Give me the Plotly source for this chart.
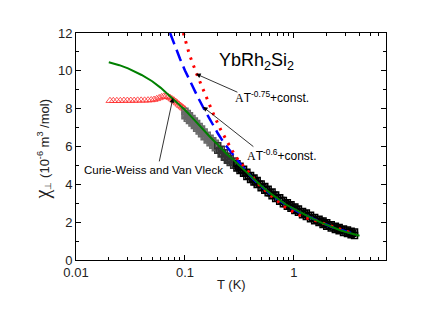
import math
import plotly.graph_objects as go

# ---------------- data ----------------
# Curie-Weiss and Van Vleck fit (green)
cw_T = [0.02, 0.025, 0.03, 0.035, 0.04, 0.05, 0.06, 0.07, 0.08, 0.09, 0.1, 0.12, 0.14, 0.17,
        0.2, 0.24, 0.28, 0.34, 0.4, 0.5, 0.6, 0.7, 0.85, 1.0, 1.2, 1.5, 1.8, 2.2, 2.7, 3.3, 4.0]
cw_chi = [10.45, 10.3, 10.13, 9.96, 9.78, 9.45, 9.1, 8.75, 8.45, 8.18, 7.93, 7.45, 7.02, 6.5,
          6.1, 5.62, 5.28, 4.82, 4.42, 3.92, 3.55, 3.25, 2.92, 2.7, 2.45, 2.17, 1.96, 1.75, 1.56, 1.41, 1.28]

# A T^-0.6 + const (blue dashed)
p06_T = [0.073, 0.08, 0.09, 0.1, 0.11, 0.12, 0.13, 0.146, 0.16, 0.18, 0.2, 0.23, 0.27, 0.3, 0.34,
         0.37, 0.42, 0.5, 0.6, 0.75, 0.9, 1.1, 1.4, 1.8, 2.3, 2.9, 3.5]
p06_chi = [12.0, 11.37, 10.64, 10.02, 9.5, 9.05, 8.66, 8.1, 7.68, 7.15, 6.7, 6.15, 5.62, 5.3, 4.92,
           4.67, 4.3, 3.9, 3.52, 3.12, 2.82, 2.55, 2.25, 1.97, 1.72, 1.52, 1.39]

# A T^-0.75 + const (red dotted)
p075_T = [0.0966, 0.11, 0.128, 0.15, 0.18, 0.21, 0.24, 0.27, 0.3, 0.35, 0.41, 0.48, 0.577, 0.69,
          0.82, 1.0, 1.2, 1.5, 1.9, 2.4, 3.0, 3.5]
p075_chi = [12.0, 10.85, 9.84, 8.85, 7.8, 6.95, 6.3, 5.8, 5.38, 4.9, 4.45, 3.98, 3.54, 3.17,
            2.82, 2.52, 2.28, 2.12, 1.92, 1.7, 1.5, 1.4]

# low-T data (red open triangles)
low_T = [0.0205, 0.022, 0.0237, 0.0255, 0.0275, 0.0296, 0.0318, 0.0342, 0.0368, 0.0396, 0.0426,
         0.0458, 0.049, 0.052, 0.055, 0.058, 0.061, 0.064, 0.067, 0.07, 0.073, 0.076, 0.079,
         0.082, 0.085, 0.088, 0.091, 0.094, 0.097, 0.1]
low_chi = [8.42, 8.42, 8.42, 8.42, 8.43, 8.43, 8.43, 8.43, 8.44, 8.44, 8.44, 8.45, 8.46, 8.48,
           8.52, 8.57, 8.62, 8.65, 8.66, 8.63, 8.58, 8.51, 8.45, 8.38, 8.3, 8.23, 8.16, 8.09, 8.03, 7.97]

# high-T data (black open squares): upper, middle and lower runs
hi_T = [0.1, 0.105, 0.11, 0.116, 0.122, 0.128, 0.135, 0.142, 0.15, 0.16, 0.17, 0.18, 0.19, 0.2,
        0.215, 0.23, 0.245, 0.26, 0.28, 0.3, 0.32, 0.345, 0.37, 0.4, 0.43, 0.46, 0.5, 0.54, 0.58,
        0.63, 0.68, 0.74, 0.8, 0.87, 0.94, 1.02, 1.1, 1.2, 1.3, 1.42, 1.55, 1.7, 1.85, 2.0, 2.2,
        2.4, 2.6, 2.85, 3.1, 3.35, 3.6]
hi_chi_up = [7.86, 7.74, 7.62, 7.48, 7.35, 7.21, 7.06, 6.92, 6.76, 6.59, 6.44, 6.3, 6.17, 6.04,
             5.85, 5.67, 5.49, 5.37, 5.23, 5.09, 4.95, 4.8, 4.64, 4.47, 4.33, 4.2, 4.02, 3.88,
             3.74, 3.59, 3.43, 3.29, 3.15, 3.02, 2.92, 2.8, 2.7, 2.57, 2.48, 2.36, 2.25, 2.16,
             2.06, 1.97, 1.87, 1.79, 1.72, 1.64, 1.58, 1.52, 1.48]
hi_chi_lo = [7.63, 7.5, 7.38, 7.24, 7.11, 6.97, 6.82, 6.68, 6.52, 6.35, 6.2, 6.06, 5.93, 5.8,
             5.61, 5.43, 5.27, 5.15, 5.01, 4.87, 4.73, 4.58, 4.42, 4.26, 4.12, 3.99, 3.82, 3.69,
             3.55, 3.4, 3.25, 3.11, 2.97, 2.84, 2.74, 2.62, 2.52, 2.39, 2.3, 2.18, 2.07, 1.98,
             1.88, 1.79, 1.69, 1.61, 1.54, 1.46, 1.4, 1.34, 1.3]
hi_T_mid = [0.102, 0.107, 0.113, 0.119, 0.125, 0.131, 0.138, 0.146, 0.155, 0.165, 0.175, 0.185,
            0.195, 0.207, 0.222, 0.237, 0.252, 0.27, 0.29, 0.31, 0.332, 0.357, 0.385, 0.415,
            0.445, 0.48, 0.52, 0.56, 0.605, 0.655, 0.71, 0.77, 0.835, 0.905, 0.98, 1.06, 1.15,
            1.25, 1.36, 1.48, 1.62, 1.77, 1.92, 2.1, 2.3, 2.5, 2.72, 2.97, 3.22, 3.47]
hi_chi_mid = [7.7, 7.57, 7.43, 7.29, 7.16, 7.03, 6.88, 6.72, 6.56, 6.39, 6.25, 6.11, 5.98, 5.83,
              5.64, 5.47, 5.32, 5.19, 5.05, 4.91, 4.77, 4.61, 4.45, 4.29, 4.15, 4.0, 3.85,
              3.72, 3.56, 3.42, 3.27, 3.14, 2.99, 2.89, 2.77, 2.67, 2.55, 2.45, 2.34, 2.23,
              2.13, 2.03, 1.94, 1.84, 1.75, 1.68, 1.6, 1.53, 1.47, 1.42]

x_tickvals = [0.01, 0.1, 1]
x_ticktext = ["0.01", "0.1", "1"]
x_minor = [0.02, 0.03, 0.04, 0.05, 0.06, 0.07, 0.08, 0.09,
           0.2, 0.3, 0.4, 0.5, 0.6, 0.7, 0.8, 0.9, 2, 3, 4, 5, 6, 7]
y_tickvals = [0, 2, 4, 6, 8, 10, 12]

FONT = "Liberation Sans, Arial, sans-serif"
SERIF = "Liberation Serif"


def band_colors(ts):
    # grey symbols at the low-temperature end of the band, black elsewhere
    return ["#6a6a6a" if t < 0.2 else ("#333333" if t < 0.3 else "#000000") for t in ts]


fig = go.Figure()

fig.add_trace(go.Scatter(x=low_T, y=low_chi, mode="markers",
                         marker=dict(symbol="triangle-up-open", size=7, color="#ff3030",
                                     line=dict(width=0.8, color="#ff3030")),
                         showlegend=False))
for xs, ys in ((hi_T, hi_chi_lo), (hi_T_mid, hi_chi_mid), (hi_T, hi_chi_up)):
    cols = band_colors(xs)
    fig.add_trace(go.Scatter(x=xs, y=ys, mode="markers",
                             marker=dict(symbol="square-open", size=6, color=cols,
                                         line=dict(width=1.5, color=cols)),
                             showlegend=False))
fig.add_trace(go.Scatter(x=p06_T, y=p06_chi, mode="lines",
                         line=dict(color="#0000ff", width=2.5, dash="12px,6px"),
                         showlegend=False))
fig.add_trace(go.Scatter(x=p075_T, y=p075_chi, mode="lines",
                         line=dict(color="#ff0000", width=3, dash="2.5px,6px"),
                         showlegend=False))
fig.add_trace(go.Scatter(x=cw_T, y=cw_chi, mode="lines",
                         line=dict(color="#008000", width=2),
                         showlegend=False))

L = math.log10
annotations = [
    dict(x=L(0.458), y=10.5, xref="x", yref="y", showarrow=False,
         text="YbRh<sub>2</sub>Si<sub>2</sub>", font=dict(size=18, family=FONT, color="#000")),
    dict(x=L(0.628), y=8.6, xref="x", yref="y", showarrow=False,
         text=f"<span style='font-family:{SERIF}'>A</span>T<sup>-0.75</sup>+const.",
         font=dict(size=12, family=FONT, color="#000")),
    dict(x=L(0.776), y=5.55, xref="x", yref="y", showarrow=False,
         text=f"<span style='font-family:{SERIF}'>A</span>T<sup>-0.6</sup>+const.",
         font=dict(size=12, family=FONT, color="#000")),
    dict(x=L(0.0514), y=4.78, xref="x", yref="y", showarrow=False,
         text="Curie-Weiss and Van Vleck", font=dict(size=11.5, family=FONT, color="#000")),
    # arrows
    dict(x=L(0.126), y=9.84, xref="x", yref="y", text="", showarrow=True,
         ax=43, ay=19, arrowhead=2, arrowsize=1.2, arrowwidth=0.8, arrowcolor="#000"),
    dict(x=L(0.146), y=8.1, xref="x", yref="y", text="", showarrow=True,
         ax=52, ay=41, arrowhead=2, arrowsize=1.2, arrowwidth=0.8, arrowcolor="#000"),
    dict(x=L(0.0776), y=8.57, xref="x", yref="y", text="", showarrow=True,
         ax=-14, ay=65, arrowhead=2, arrowsize=1.2, arrowwidth=0.8, arrowcolor="#000"),
    # axis titles
    dict(x=0.5, y=-0.106, xref="paper", yref="paper", showarrow=False, yanchor="middle",
         text="T (K)", font=dict(size=13, family=FONT, color="#222")),
    dict(x=-0.108, y=0.485, xref="paper", yref="paper", showarrow=False, textangle=-90,
         xanchor="center", yanchor="middle",
         text=f"<span style='font-family:{SERIF};font-size:20px'>χ</span><sub>⊥</sub> (10<sup>-6</sup> m<sup>3</sup> /mol)",
         font=dict(size=13, family=FONT, color="#222")),
]

fig.update_layout(
    width=417, height=306,
    margin=dict(l=68, r=39, t=25, b=54),
    paper_bgcolor="white", plot_bgcolor="white",
    font=dict(family=FONT, size=13, color="#222"),
    annotations=annotations,
)
fig.update_xaxes(type="log", range=[-2, 0.845], tickmode="array", tickvals=x_tickvals,
                 ticktext=x_ticktext, ticks="inside", ticklen=5, tickcolor="#000",
                 showline=True, linecolor="#000", linewidth=1, mirror="allticks",
                 showgrid=False, zeroline=False,
                 minor=dict(tickmode="array", tickvals=x_minor, ticks="inside", ticklen=3,
                            tickcolor="#000", showgrid=False))
fig.update_yaxes(range=[0, 12], tickmode="array", tickvals=y_tickvals,
                 ticks="inside", ticklen=5, tickcolor="#000",
                 showline=True, linecolor="#000", linewidth=1, mirror="allticks",
                 showgrid=False, zeroline=False,
                 minor=dict(dtick=1, ticks="inside", ticklen=3, tickcolor="#000", showgrid=False))

fig.write_html("out.html")
